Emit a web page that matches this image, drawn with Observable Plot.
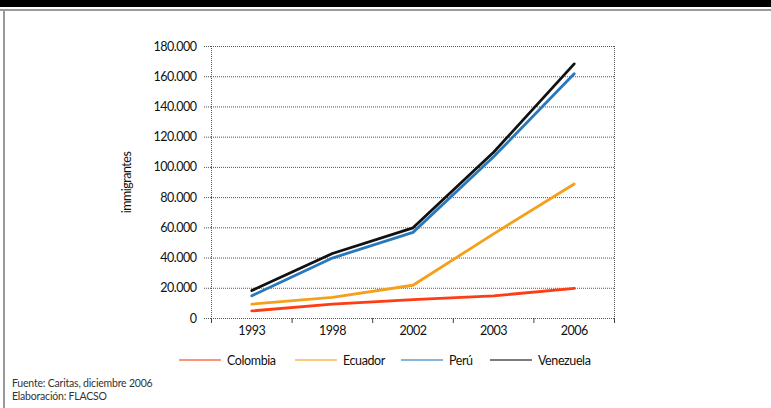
<!DOCTYPE html>
<html>
<head>
<meta charset="utf-8">
<script src="https://cdn.jsdelivr.net/npm/d3@7"></script>
<script src="https://cdn.jsdelivr.net/npm/@observablehq/plot@0.6"></script>
<style>
  html, body { margin: 0; padding: 0; background: #fff; }
  #wrap { position: relative; width: 771px; height: 408px; overflow: hidden; font-family: Lato, "Open Sans", sans-serif; }
  #topbar { position: absolute; left: 0; top: 0; width: 771px; height: 7px; background: #000; }
  #topline { position: absolute; left: 0; top: 9px; width: 771px; height: 2px; background: #9a9a9a; }
  #leftline { position: absolute; left: 3px; top: 10px; width: 1.5px; height: 398px; background: #999; }
  #chart { position: absolute; left: 0; top: 0; }
  #legend { position: absolute; left: 0; top: 352px; width: 771px; height: 18px; font-size: 12.5px; color: #111; letter-spacing: -0.4px; }
  .item { position: absolute; top: 0; display: flex; align-items: center; height: 16px; }
  .sw { width: 42px; height: 2px; margin-right: 6px; opacity: 0.55; }
  #footer { position: absolute; left: 12px; top: 377px; font-size: 10.5px; line-height: 13px; color: #333; letter-spacing: -0.2px; }
</style>
</head>
<body>
<div id="wrap">
  <div id="topbar"></div>
  <div id="topline"></div>
  <div id="leftline"></div>
  <div id="chart"></div>
  <div id="legend"></div>
  <div id="footer">Fuente: Caritas, diciembre 2006<br>Elaboración: FLACSO</div>
</div>
<script>
const years = ["1993", "1998", "2002", "2003", "2006"];
const names = ["Colombia", "Ecuador", "Perú", "Venezuela"];
const colors = ["#ff3c14", "#f5a01a", "#2878be", "#111111"];
const colombia = [5000, 9500, 12500, 15000, 20000];
const ecuador = [9500, 14000, 22000, 56000, 89000];
const peru = [15000, 40000, 57000, 107000, 162000];
const venezuela = [18500, 43000, 60000, 110000, 168500];
const yTicks = [0, 20000, 40000, 60000, 80000, 100000, 120000, 140000, 160000, 180000];

const seriesValues = [colombia, ecuador, peru, venezuela];
const rows = [];
names.forEach((n, k) => seriesValues[k].forEach((v, i) => rows.push({i, v, name: n})));
const idx = years.map((_, i) => i);
const bounds = [...idx.map(i => i - 0.5), years.length - 0.5];
const fmt = d => d3.format(",")(d).replace(/,/g, ".");
const dotted = {stroke: "#555", strokeDasharray: "1,1", strokeWidth: 1};

const chart = Plot.plot({
  width: 771,
  height: 345,
  marginLeft: 211,
  marginRight: 157,
  marginTop: 46,
  marginBottom: 27,
  x: {domain: [-0.5, years.length - 0.5]},
  y: {domain: [0, 180000]},
  color: {domain: names, range: colors},
  style: {fontFamily: "Lato, 'Open Sans', sans-serif", fontSize: "12.5px", color: "#111", background: "transparent", letterSpacing: "-0.5px"},
  marks: [
    Plot.gridY({ticks: yTicks, ...dotted, strokeOpacity: 1}),
    Plot.ruleX([bounds[0], bounds[bounds.length - 1]], dotted),
    Plot.axisY({ticks: yTicks, tickSize: 8, tickPadding: 7, tickFormat: fmt, label: "immigrantes", labelAnchor: "center", labelArrow: "none", labelOffset: 89, ...dotted}),
    Plot.axisX({ticks: idx, tickSize: 0, tickPadding: 8, tickFormat: i => years[i], label: null}),
    Plot.axisX({ticks: bounds, tickSize: 5, tickFormat: () => "", label: null, stroke: "#444"}),
    Plot.line(rows, {x: "i", y: "v", z: "name", stroke: "name", strokeWidth: 2.8, strokeLinejoin: "round", strokeLinecap: "round"})
  ]
});
document.getElementById("chart").appendChild(chart);

const legendLeft = [179, 295, 401, 490];
const legend = document.getElementById("legend");
names.forEach((n, k) => {
  const it = document.createElement("div");
  it.className = "item";
  it.style.left = legendLeft[k] + "px";
  const sw = document.createElement("div");
  sw.className = "sw";
  sw.style.background = colors[k];
  const t = document.createElement("span");
  t.textContent = n;
  it.appendChild(sw);
  it.appendChild(t);
  legend.appendChild(it);
});
</script>
</body>
</html>
